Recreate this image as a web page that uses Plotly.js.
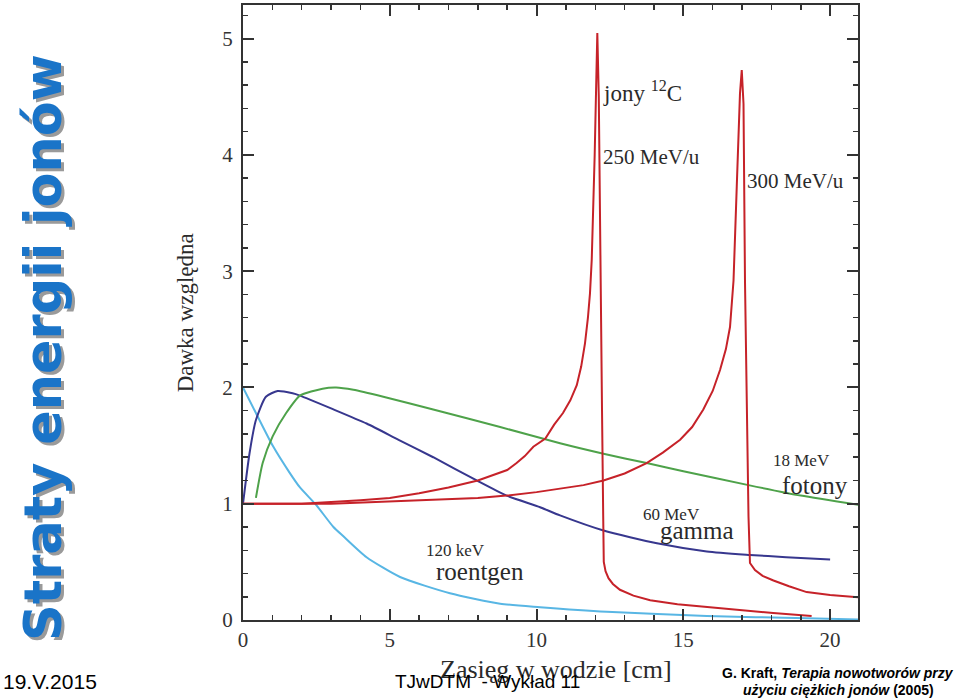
<!DOCTYPE html>
<html>
<head>
<meta charset="utf-8">
<script src="https://cdn.plot.ly/plotly-3.0.1.min.js"></script>
<style>html,body{margin:0;padding:0;background:#fff;}#chart{width:960px;height:699px;}</style>
</head>
<body>
<div id="chart"></div>
<script>
// ---- data ----
const depth_c250 = [0, 2, 4, 5.0, 6.0, 7.0, 8.0, 9.0, 9.32, 9.6, 9.89, 10.3, 10.6, 10.9, 11.15, 11.37, 11.52, 11.65, 11.75, 11.82, 11.88, 11.93, 11.98, 12.03, 12.07, 12.12, 12.17, 12.23, 12.27, 12.29, 12.35, 12.45, 12.6, 12.84, 13.3, 13.87, 14.8, 15.8, 17.0, 18.06, 19.37];
const dose_c250  = [1.0, 1.0, 1.03, 1.05, 1.09, 1.14, 1.20, 1.29, 1.35, 1.41, 1.49, 1.56, 1.68, 1.78, 1.89, 2.02, 2.18, 2.38, 2.6, 2.81, 3.1, 3.5, 4.0, 4.59, 5.05, 4.5, 3.0, 1.8, 0.9, 0.5, 0.42, 0.36, 0.31, 0.26, 0.21, 0.17, 0.135, 0.11, 0.085, 0.06, 0.035];

const depth_c300 = [0, 3, 6.03, 8.0, 8.98, 10.0, 10.8, 11.6, 12.28, 13.0, 13.75, 14.3, 14.89, 15.3, 15.68, 16.0, 16.25, 16.45, 16.59, 16.65, 16.71, 16.82, 16.93, 16.99, 17.05, 17.10, 17.16, 17.22, 17.27, 17.35, 17.44, 17.7, 18.07, 18.6, 19.2, 20.0, 20.97];
const dose_c300  = [1.0, 1.0, 1.03, 1.05, 1.07, 1.10, 1.13, 1.16, 1.2, 1.26, 1.35, 1.44, 1.55, 1.66, 1.81, 1.97, 2.15, 2.33, 2.52, 2.7, 2.92, 3.73, 4.53, 4.73, 4.44, 2.92, 1.8, 0.89, 0.49, 0.46, 0.43, 0.38, 0.34, 0.29, 0.24, 0.215, 0.195];

const depth_foton = [0.44, 0.67, 1.01, 1.47, 1.94, 2.71, 3.17, 3.76, 4.78, 6.48, 8.76, 10.8, 12.28, 13.75, 15.0, 17.22, 19.0, 20.97];
const dose_foton  = [1.05, 1.35, 1.58, 1.78, 1.93, 1.99, 2.0, 1.98, 1.92, 1.81, 1.66, 1.52, 1.43, 1.35, 1.28, 1.16, 1.07, 0.99];

const depth_gamma = [0, 0.22, 0.44, 0.78, 1.18, 1.69, 1.94, 3.0, 4.21, 5.3, 6.48, 7.96, 8.98, 10.12, 10.8, 12.28, 14.1, 15.8, 17.27, 18.5, 20.0];
const dose_gamma  = [1.0, 1.43, 1.72, 1.92, 1.97, 1.95, 1.93, 1.82, 1.69, 1.55, 1.40, 1.20, 1.07, 0.97, 0.90, 0.77, 0.66, 0.59, 0.56, 0.54, 0.52];

const depth_rtg = [0, 0.44, 1.01, 1.58, 1.94, 2.49, 3.08, 3.42, 4.21, 5.35, 7.05, 8.76, 10.12, 12.39, 15.8, 19.2, 20.97];
const dose_rtg  = [2.0, 1.78, 1.50, 1.27, 1.14, 0.99, 0.80, 0.72, 0.54, 0.37, 0.23, 0.14, 0.11, 0.07, 0.035, 0.015, 0.005];

const xTickStep = 5;
const yTickStep = 1;

const serif = 'Liberation Serif, Times New Roman, serif';
const sans = 'Liberation Sans, Arial, sans-serif';
const ink = '#2a2a2a';

const traces = [
  {x: depth_rtg, y: dose_rtg, mode: 'lines', line: {color: '#58b6e4', width: 2, shape: 'spline', smoothing: 0.6}},
  {x: depth_gamma, y: dose_gamma, mode: 'lines', line: {color: '#37378e', width: 2, shape: 'spline', smoothing: 0.6}},
  {x: depth_foton, y: dose_foton, mode: 'lines', line: {color: '#4ea24a', width: 2, shape: 'spline', smoothing: 0.6}},
  {x: depth_c250, y: dose_c250, mode: 'lines', line: {color: '#c62229', width: 2}},
  {x: depth_c300, y: dose_c300, mode: 'lines', line: {color: '#c62229', width: 2}}
];

function ann(text, x, y, size, extra) {
  return Object.assign({text: text, x: x, y: y, xref: 'x', yref: 'y', showarrow: false,
    xanchor: 'left', yanchor: 'middle', font: {family: serif, size: size, color: ink}}, extra || {});
}
function pann(text, x, y, font, extra) {
  return Object.assign({text: text, x: x, y: y, xref: 'paper', yref: 'paper', showarrow: false,
    xanchor: 'center', yanchor: 'middle', font: font}, extra || {});
}

const annotations = [
  ann('jony <sup>12</sup>C', 12.2, 4.55, 23),
  ann('250 MeV/u', 12.2, 3.98, 21),
  ann('300 MeV/u', 17.1, 3.78, 21),
  ann('18 MeV', 17.98, 1.37, 17),
  ann('fotony', 18.3, 1.16, 25),
  ann('60 MeV', 13.55, 0.91, 17),
  ann('gamma', 14.15, 0.77, 25),
  ann('120 keV', 6.15, 0.60, 17),
  ann('roentgen', 6.5, 0.42, 25),
  // axis titles
  pann('Dawka względna', -0.094, 0.499, {family: serif, size: 23, color: ink}, {textangle: -90}),
  pann('Zasięg w wodzie [cm]', 0.509, -0.08, {family: serif, size: 26, color: ink}),
  // slide title with shadow
  pann('Straty energii jonów', -0.3236, 0.444, {family: 'DejaVu Sans', size: 51, color: '#9a9a9a', weight: 'bold'}, {textangle: -90, xshift: 3, yshift: -3}),
  pann('Straty energii jonów', -0.3236, 0.444, {family: 'DejaVu Sans', size: 51, color: '#1a74c8', weight: 'bold'}, {textangle: -90}),
  // footer
  pann('19.V.2015', -0.3935, -0.1007, {family: sans, size: 21, color: '#000'}, {xanchor: 'left'}),
  pann('TJwDTM  - Wykład 11', 0.397, -0.1007, {family: sans, size: 19, color: '#000'}),
  pann('<b>G. Kraft, <i>Terapia nowotworów przy</i></b>', 0.9675, -0.0862, {family: sans, size: 14, color: '#000'}),
  pann('<b><i>użyciu ciężkich jonów</i> (2005)</b>', 0.9675, -0.1138, {family: sans, size: 14, color: '#000'})
];

const axisCommon = {
  showgrid: false, zeroline: false, showline: true, linecolor: '#333', linewidth: 2,
  mirror: 'ticks', ticks: 'inside', ticklen: 11, tickwidth: 2, tickcolor: '#333',
  tickmode: 'linear', tick0: 0,
  tickfont: {family: serif, size: 21, color: '#333'}
};

const layout = {
  width: 960, height: 699,
  margin: {l: 243, r: 102, t: 5, b: 79, pad: 0},
  paper_bgcolor: '#fff', plot_bgcolor: '#fff',
  showlegend: false,
  xaxis: Object.assign({}, axisCommon, {range: [0, 20.95], dtick: xTickStep,
    minor: {tickmode: 'linear', tick0: 0, dtick: 1, ticks: 'inside', ticklen: 5, tickwidth: 1.5, tickcolor: '#333'}}),
  yaxis: Object.assign({}, axisCommon, {range: [0, 5.29], dtick: yTickStep,
    ticklabelstandoff: 4,
    minor: {tickmode: 'linear', tick0: 0, dtick: 0.2, ticks: 'inside', ticklen: 5, tickwidth: 1.5, tickcolor: '#333'}}),
  annotations: annotations
};

Plotly.newPlot('chart', traces, layout, {staticPlot: true, displayModeBar: false});
</script>
</body>
</html>
